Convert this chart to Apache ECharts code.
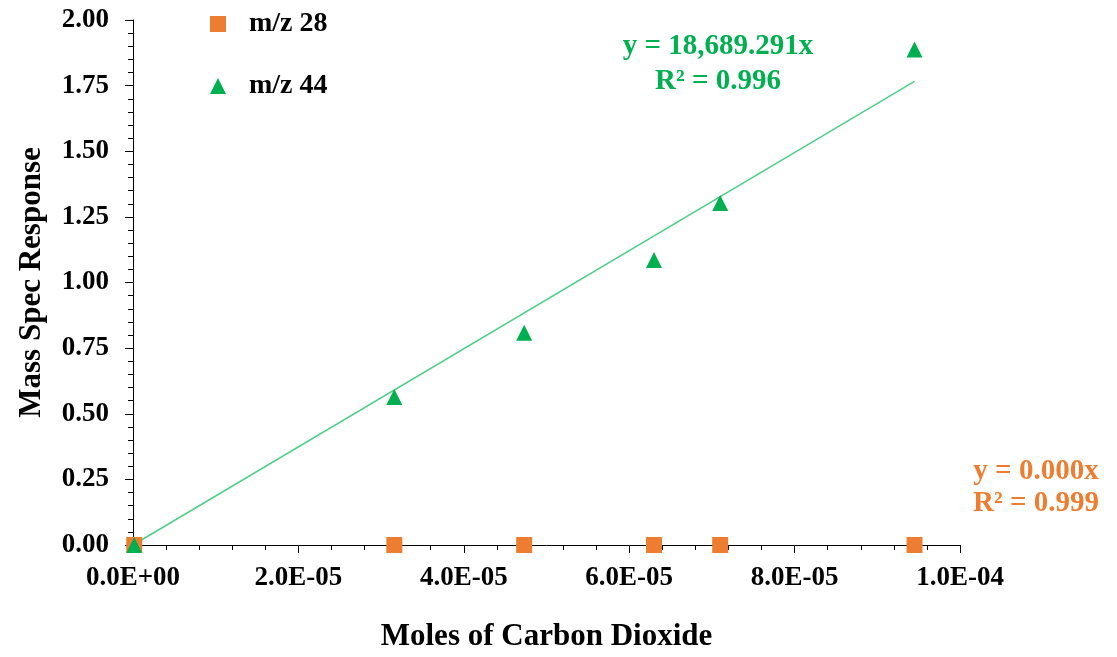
<!DOCTYPE html>
<html>
<head>
<meta charset="utf-8">
<script src="https://cdn.jsdelivr.net/npm/echarts@6/dist/echarts.min.js"></script>
<style>
  html, body { margin: 0; padding: 0; background: #fff; }
  #chart { width: 1117px; height: 657px; }
</style>
</head>
<body>
<div id="chart"></div>
<script>
// Moles of CO2 injected for each calibration run
const molesCO2 = [1.5e-7, 3.16e-5, 4.73e-5, 6.30e-5, 7.10e-5, 9.45e-5];
// Mass spectrometer response per ion
const mz28Response = [0, 0, 0, 0, 0, 0];
const mz44Response = [0.0, 0.564, 0.809, 1.086, 1.303, 1.888];
// Least-squares fits through the origin
const mz44Slope = 18689.291;
const mz44R2 = 0.996;
const mz28Slope = 0.000;
const mz28R2 = 0.999;
const seriesNames = ['m/z 28', 'm/z 44'];

const ORANGE = '#ED7D31';
const GREEN = '#00B050';
const TREND = '#4FCF88';
const FONT = '"Liberation Serif", "Times New Roman", serif';

function sciLabel(v) {
  if (v === 0) return '0.0E+00';
  const parts = v.toExponential(1).split('e');
  const exp = parseInt(parts[1], 10);
  const sign = exp < 0 ? '-' : '+';
  return parts[0] + 'E' + sign + String(Math.abs(exp)).padStart(2, '0');
}

const pts28 = molesCO2.map((x, i) => [x, mz28Response[i]]);
const pts44 = molesCO2.map((x, i) => [x, mz44Response[i]]);
const xEnd = molesCO2[molesCO2.length - 1];
const trend44 = [[0, 0], [xEnd, mz44Slope * xEnd]];

const chart = echarts.init(document.getElementById('chart'), null, { renderer: 'canvas' });

const axisText = { fontFamily: FONT, fontWeight: 'bold', fontSize: 27, color: '#000' };
const legendText = { fontFamily: FONT, fontWeight: 'bold', fontSize: 28, color: '#000', padding: [0, 0, 0, 18] };

chart.setOption({
  animation: false,
  backgroundColor: '#fff',
  grid: { left: 133, top: 20, right: 157, bottom: 110, containLabel: false },
  xAxis: {
    type: 'value',
    min: 0, max: 1e-4, interval: 2e-5,
    name: 'Moles of Carbon Dioxide',
    nameLocation: 'middle',
    nameGap: 76,
    nameTextStyle: { fontFamily: FONT, fontWeight: 'bold', fontSize: 31, color: '#000' },
    axisLine: { show: true, onZero: false, lineStyle: { color: '#000', width: 1 } },
    axisTick: { show: true, inside: false, length: 8, lineStyle: { color: '#000' } },
    minorTick: { show: true, splitNumber: 5, length: 5, lineStyle: { color: '#000' } },
    splitLine: { show: false },
    axisLabel: Object.assign({ margin: 20, formatter: sciLabel }, axisText)
  },
  yAxis: {
    type: 'value',
    min: 0, max: 2, interval: 0.25,
    name: 'Mass Spec Response',
    nameLocation: 'middle',
    nameGap: 86,
    nameRotate: 90,
    nameTextStyle: { fontFamily: FONT, fontWeight: 'bold', fontSize: 31, color: '#000' },
    axisLine: { show: true, onZero: false, lineStyle: { color: '#000', width: 1 } },
    axisTick: { show: true, inside: false, length: 8, lineStyle: { color: '#000' } },
    minorTick: { show: true, splitNumber: 5, length: 5, lineStyle: { color: '#000' } },
    splitLine: { show: false },
    axisLabel: Object.assign({ margin: 24, formatter: v => v.toFixed(2) }, axisText)
  },
  legend: [
    {
      orient: 'vertical', left: 205, top: 5,
      itemWidth: 16, itemHeight: 16, itemGap: 10,
      textStyle: legendText,
      data: [{ name: seriesNames[0], icon: 'rect' }]
    },
    {
      orient: 'vertical', left: 205, top: 67,
      itemWidth: 16, itemHeight: 16, itemGap: 10,
      textStyle: legendText,
      data: [{ name: seriesNames[1], icon: 'triangle' }]
    }
  ],
  graphic: [
    {
      type: 'text', x: 718, y: 64, z: 10,
      style: {
        text: 'y = ' + mz44Slope.toLocaleString('en-US', { minimumFractionDigits: 3 }) + 'x\nR² = ' + mz44R2.toFixed(3),
        align: 'center', verticalAlign: 'middle', lineHeight: 35,
        fontFamily: FONT, fontWeight: 'bold', fontSize: 29, fill: GREEN
      }
    },
    {
      type: 'text', x: 1036, y: 488, z: 10,
      style: {
        text: 'y = ' + mz28Slope.toFixed(3) + 'x\nR² = ' + mz28R2.toFixed(3),
        align: 'center', verticalAlign: 'middle', lineHeight: 32,
        fontFamily: FONT, fontWeight: 'bold', fontSize: 29, fill: ORANGE
      }
    }
  ],
  series: [
    {
      name: 'm/z 44 fit',
      type: 'line',
      data: trend44,
      showSymbol: false,
      symbol: 'none',
      silent: true,
      z: 1,
      lineStyle: { color: TREND, width: 1.5 }
    },
    {
      name: seriesNames[0],
      type: 'scatter',
      data: pts28,
      symbol: 'rect',
      symbolSize: 16,
      clip: false,
      z: 2,
      itemStyle: { color: ORANGE, opacity: 1 }
    },
    {
      name: seriesNames[1],
      type: 'scatter',
      data: pts44,
      symbol: 'triangle',
      symbolSize: 16,
      clip: false,
      z: 3,
      itemStyle: { color: GREEN, opacity: 1 }
    }
  ]
});
</script>
</body>
</html>
